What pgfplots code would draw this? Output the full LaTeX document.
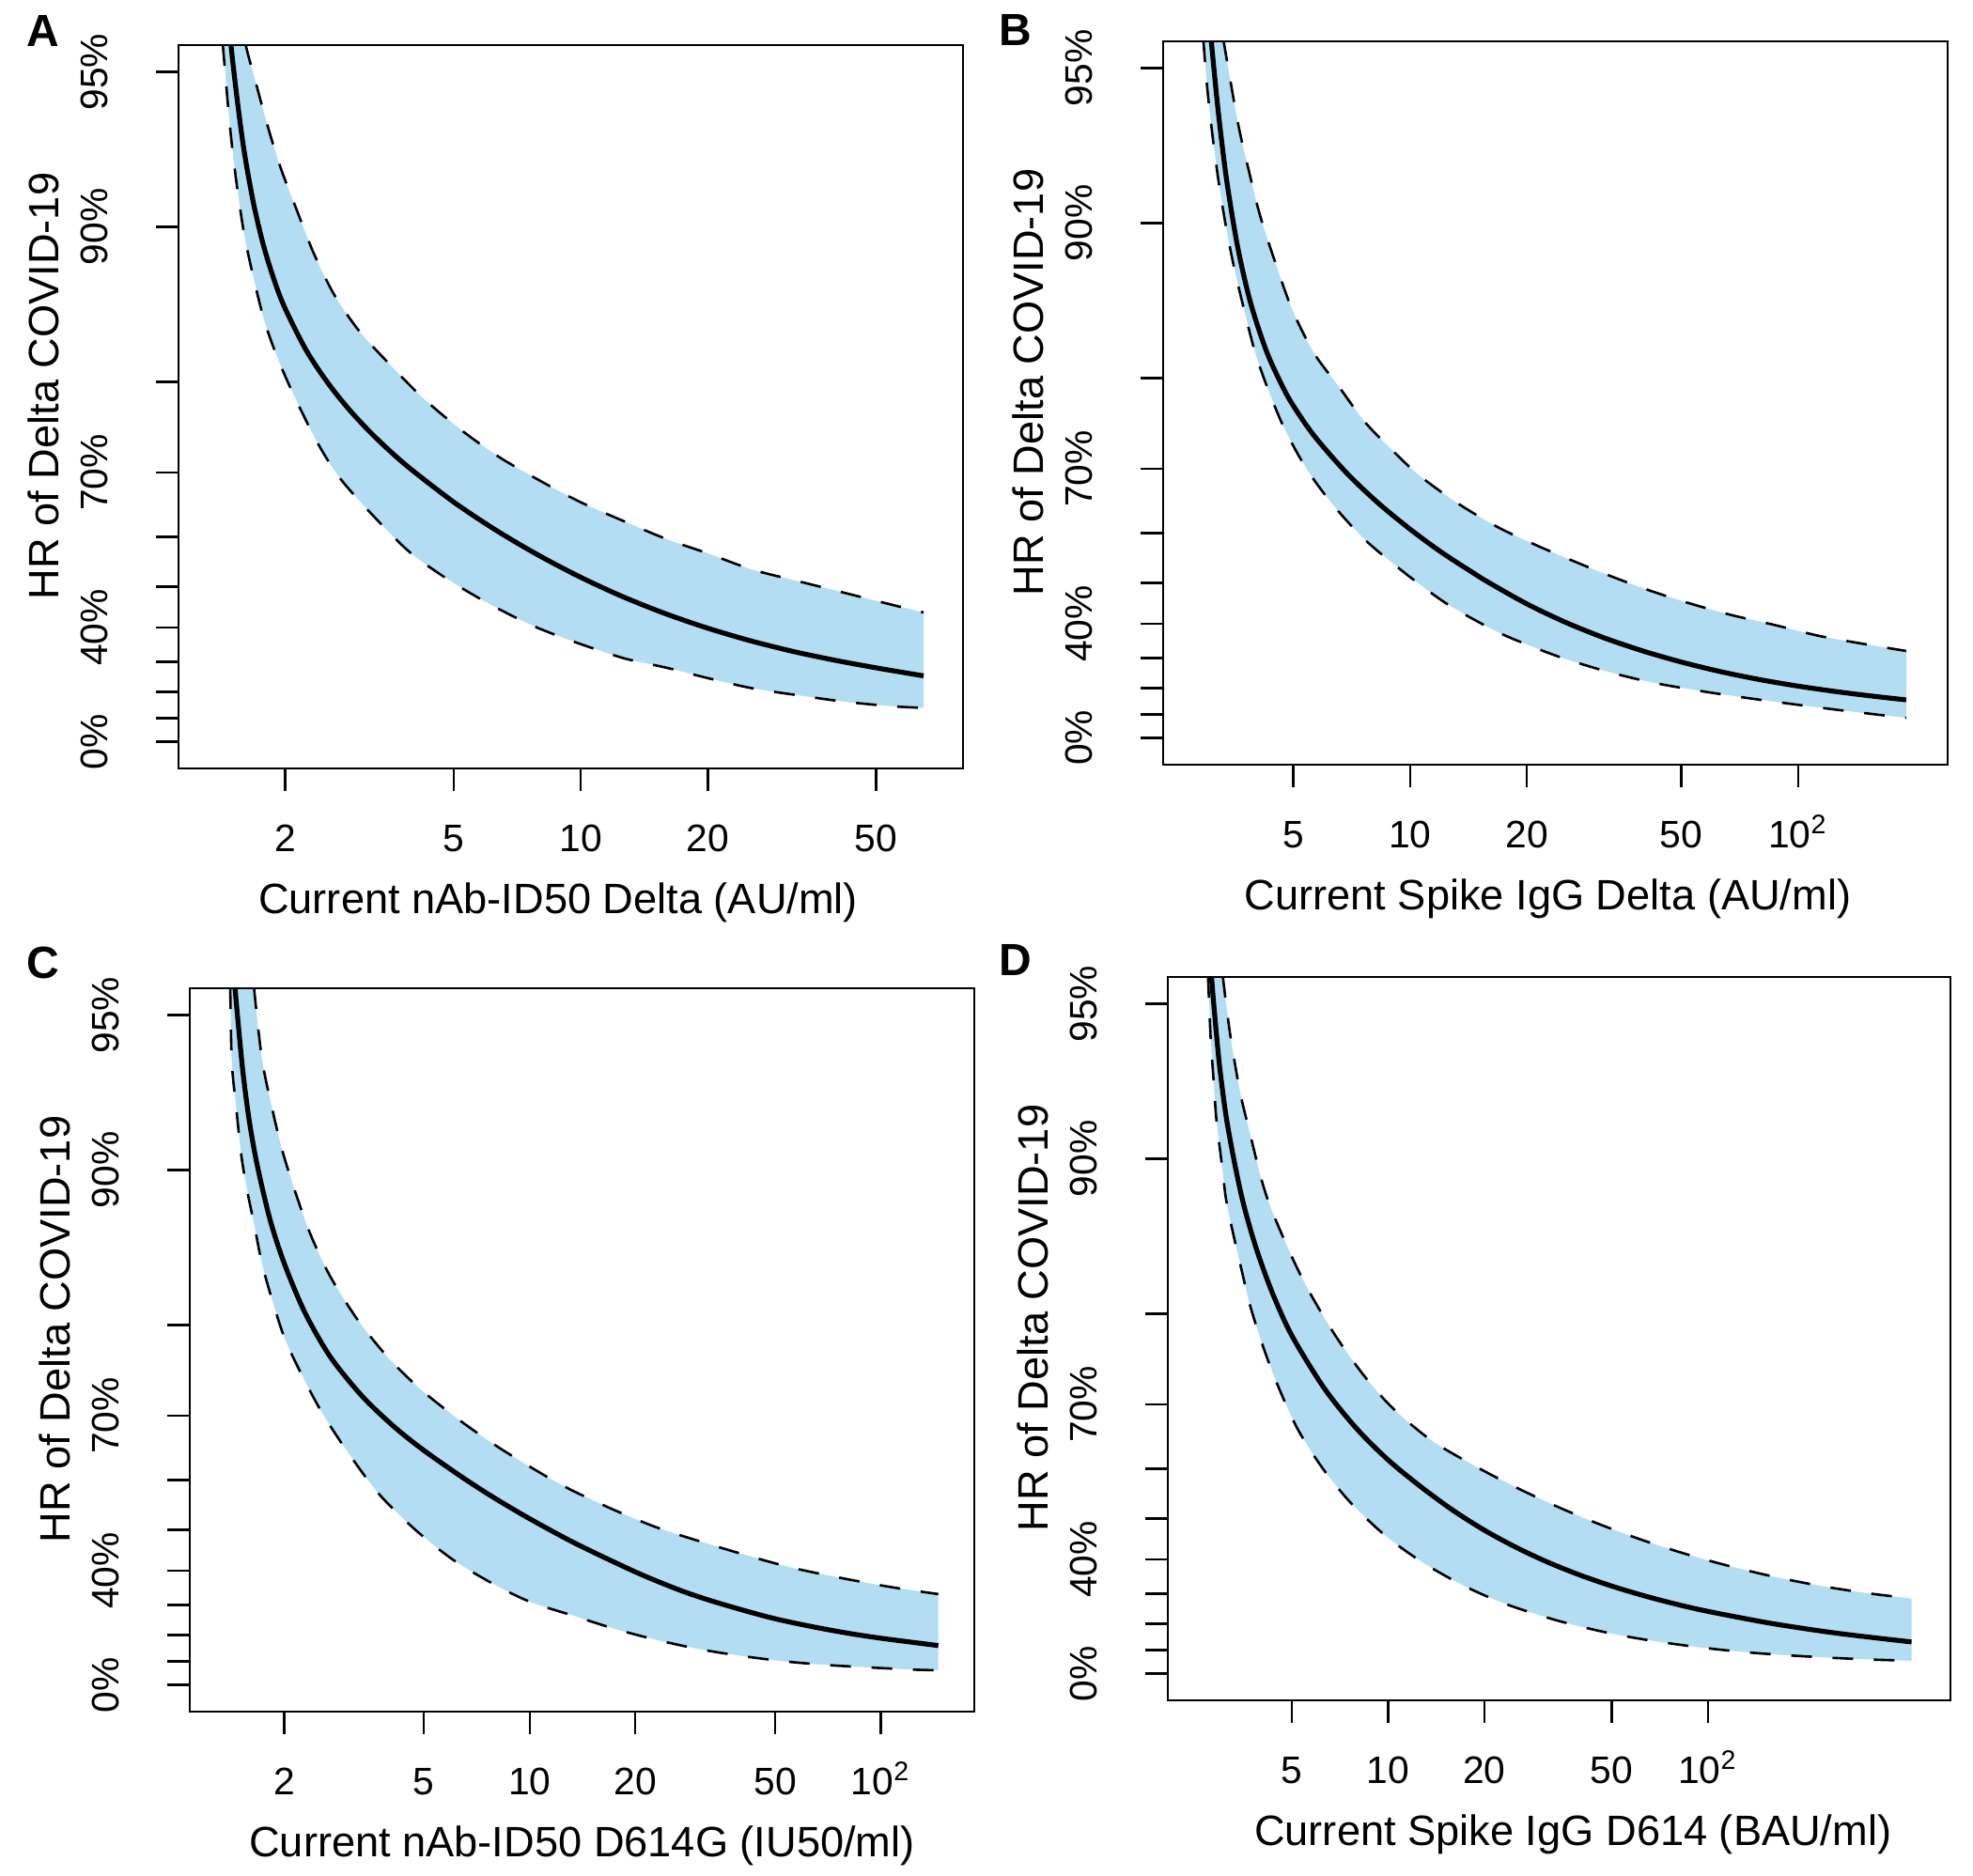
\documentclass[border=0pt]{standalone}
\usepackage{fontspec}
\setmainfont{Liberation Sans}
\usepackage{pgfplots}
\pgfplotsset{compat=1.18}
\usepackage{pgfplotstable}
\definecolor{band}{RGB}{178,221,243}
\newcommand\ticksize{\fontsize{10.2}{12}\selectfont}
\newcommand\labsize{\fontsize{11.3}{13}\selectfont}
\newcommand\letsize{\fontsize{12}{14}\selectfont}

% x = antibody level, p = HR in percent (axis scale: -ln(1-p))
% ---------- A ----------
\pgfplotstableread[row sep=\\]{x p\\ 1.429 97.00\\ 1.496 95.38\\ 1.585 93.20\\ 1.679 91.07\\ 1.778 89.10\\ 1.884 87.29\\ 1.995 85.64\\ 2.239 82.66\\ 2.512 79.99\\ 2.818 77.47\\ 3.162 75.04\\ 3.548 72.68\\ 3.981 70.36\\ 5.012 65.73\\ 6.310 61.13\\ 7.943 56.57\\ 10.00 52.05\\ 12.59 47.69\\ 15.85 43.60\\ 19.95 39.82\\ 25.12 36.36\\ 31.62 33.27\\ 39.81 30.55\\ 50.12 28.08\\ 64.70 25.48\\}\Acen
\pgfplotstableread[row sep=\\]{x p\\ 1.550 96.31\\ 1.612 95.57\\ 1.713 94.66\\ 1.819 93.61\\ 1.949 92.33\\ 2.125 90.76\\ 2.336 88.74\\ 2.614 86.43\\ 3.001 84.01\\ 3.566 81.35\\ 4.238 78.48\\ 5.213 75.19\\ 6.412 72.00\\ 7.888 69.09\\ 9.870 65.90\\ 12.50 62.84\\ 16.00 59.55\\ 20.00 56.91\\ 25.40 53.70\\ 32.80 51.18\\ 42.40 48.52\\ 54.80 45.72\\ 64.70 43.90\\}\Aup
\pgfplotstableread[row sep=\\]{x p\\ 1.397 96.31\\ 1.423 95.57\\ 1.479 93.64\\ 1.530 91.90\\ 1.598 89.69\\ 1.683 87.43\\ 1.788 84.70\\ 1.932 81.75\\ 2.125 78.24\\ 2.398 73.50\\ 2.705 69.09\\ 3.271 63.18\\ 3.955 57.04\\ 4.866 51.52\\ 6.090 45.94\\ 7.755 40.31\\ 9.870 35.60\\ 12.70 31.07\\ 16.00 28.11\\ 20.00 24.72\\ 25.40 21.26\\ 32.80 18.70\\ 42.40 16.31\\ 54.80 14.62\\ 64.70 14.02\\}\Alo
% ---------- B ----------
\pgfplotstableread[row sep=\\]{x p\\ 2.980 96.57\\ 3.045 95.86\\ 3.121 94.96\\ 3.210 93.80\\ 3.365 91.73\\ 3.594 88.84\\ 3.877 85.72\\ 4.260 82.26\\ 4.680 79.28\\ 5.000 77.35\\ 5.650 74.13\\ 6.830 69.52\\ 8.240 65.11\\ 10.00 60.66\\ 12.02 56.44\\ 14.51 52.24\\ 15.85 50.22\\ 19.95 45.13\\ 25.12 40.39\\ 31.62 36.08\\ 39.81 32.21\\ 50.12 28.74\\ 63.10 25.65\\ 79.43 22.97\\ 100.0 20.67\\ 125.9 18.67\\ 158.5 16.91\\ 190.0 15.65\\}\Bcen
\pgfplotstableread[row sep=\\]{x p\\ 3.160 96.31\\ 3.303 95.57\\ 3.594 93.63\\ 3.840 92.07\\ 4.102 90.33\\ 4.466 88.21\\ 4.953 85.33\\ 5.650 82.11\\ 6.575 79.13\\ 7.640 75.66\\ 9.060 72.22\\ 10.53 69.12\\ 13.21 65.04\\ 16.88 60.98\\ 21.57 57.47\\ 23.90 56.04\\ 30.90 52.38\\ 40.10 48.72\\ 52.00 45.34\\ 67.50 42.25\\ 87.50 39.59\\ 113.5 36.62\\ 152.8 34.03\\ 190.0 32.22\\}\Bup
\pgfplotstableread[row sep=\\]{x p\\ 2.880 96.31\\ 2.930 95.57\\ 3.000 94.50\\ 3.090 93.28\\ 3.200 91.79\\ 3.340 89.97\\ 3.520 87.75\\ 3.750 85.04\\ 3.990 82.09\\ 4.320 78.78\\ 4.750 74.84\\ 5.420 69.88\\ 6.340 64.66\\ 7.660 58.73\\ 9.650 52.29\\ 12.30 45.39\\ 15.50 39.65\\ 18.00 36.24\\ 24.00 30.58\\ 32.00 25.77\\ 42.00 21.96\\ 56.00 18.94\\ 73.00 16.47\\ 98.00 13.93\\ 127.0 11.75\\ 168.0 9.52\\ 190.0 8.61\\}\Blo
% ---------- C ----------
\pgfplotstableread[row sep=\\]{x p\\ 1.413 96.31\\ 1.447 95.59\\ 1.478 94.83\\ 1.525 93.56\\ 1.590 91.98\\ 1.675 90.22\\ 1.821 87.54\\ 2.000 84.82\\ 2.290 81.08\\ 2.706 76.94\\ 3.334 72.50\\ 4.108 68.49\\ 5.000 64.94\\ 6.500 60.27\\ 8.010 56.48\\ 10.00 52.43\\ 13.48 46.90\\ 20.00 39.65\\ 26.20 34.88\\ 31.50 31.96\\ 40.00 28.56\\ 50.00 25.59\\ 63.10 23.02\\ 79.40 20.76\\ 100.0 18.82\\ 145.8 16.11\\}\Ccen
\pgfplotstableread[row sep=\\]{x p\\ 1.615 96.31\\ 1.640 95.59\\ 1.728 93.92\\ 1.840 92.50\\ 1.979 90.79\\ 2.174 88.72\\ 2.388 86.55\\ 2.706 83.89\\ 3.231 80.49\\ 3.939 76.92\\ 4.853 73.45\\ 6.233 69.58\\ 8.010 65.70\\ 10.28 61.90\\ 12.85 58.48\\ 17.30 54.34\\ 23.10 50.49\\ 30.80 47.27\\ 41.10 44.07\\ 54.80 40.96\\ 73.10 38.43\\ 97.50 36.11\\ 119.8 34.62\\ 145.8 33.37\\}\Cup
\pgfplotstableread[row sep=\\]{x p\\ 1.390 96.31\\ 1.403 95.59\\ 1.418 93.84\\ 1.463 92.32\\ 1.509 90.64\\ 1.567 89.08\\ 1.641 87.27\\ 1.728 84.82\\ 1.840 82.29\\ 2.000 78.88\\ 2.220 75.36\\ 2.569 70.30\\ 3.067 64.30\\ 3.740 57.26\\ 4.753 49.84\\ 6.107 42.59\\ 8.010 35.92\\ 10.07 30.93\\ 13.25 26.66\\ 17.50 22.12\\ 23.10 18.13\\ 30.80 14.62\\ 41.10 11.93\\ 54.80 9.79\\ 73.10 8.33\\ 97.50 7.32\\ 124.0 6.57\\ 145.8 6.29\\}\Clo
% ---------- D ----------
\pgfplotstableread[row sep=\\]{x p\\ 2.750 96.31\\ 2.810 95.55\\ 2.877 94.70\\ 2.977 93.39\\ 3.116 91.77\\ 3.299 89.97\\ 3.533 87.78\\ 3.871 85.10\\ 4.340 81.86\\ 5.000 77.98\\ 6.310 72.14\\ 7.943 66.68\\ 10.00 61.56\\ 12.59 56.77\\ 15.85 51.97\\ 19.95 47.40\\ 25.12 43.15\\ 31.62 39.22\\ 39.81 35.63\\ 50.12 32.37\\ 63.10 29.40\\ 79.43 26.71\\ 100.0 24.28\\ 158.5 20.06\\ 251.2 16.57\\ 398.1 13.70\\ 433.0 13.23\\}\Dcen
\pgfplotstableread[row sep=\\]{x p\\ 2.950 96.31\\ 3.050 95.55\\ 3.213 94.26\\ 3.451 92.57\\ 3.708 91.05\\ 4.027 89.01\\ 4.327 87.43\\ 5.030 84.40\\ 5.708 81.76\\ 6.855 77.93\\ 8.420 73.61\\ 10.34 69.51\\ 13.60 64.83\\ 18.30 60.76\\ 24.60 56.79\\ 33.50 52.73\\ 45.00 48.95\\ 62.00 45.04\\ 84.40 41.54\\ 115.8 38.24\\ 162.5 35.07\\ 228.0 32.34\\ 320.0 30.11\\ 433.0 28.54\\}\Dup
\pgfplotstableread[row sep=\\]{x p\\ 2.710 96.31\\ 2.740 95.55\\ 2.790 94.21\\ 2.844 93.10\\ 2.910 91.58\\ 3.012 89.97\\ 3.116 88.05\\ 3.262 86.26\\ 3.494 83.47\\ 3.700 80.80\\ 4.054 77.01\\ 4.491 72.75\\ 5.210 66.58\\ 6.256 60.03\\ 7.686 53.27\\ 9.877 45.87\\ 13.00 38.86\\ 17.49 32.22\\ 23.40 26.69\\ 33.50 21.24\\ 48.00 16.82\\ 65.90 13.78\\ 92.40 11.22\\ 129.7 9.17\\ 181.9 7.76\\ 255.0 6.68\\ 330.0 6.05\\ 433.0 5.55\\}\Dlo

\pgfplotsset{
  every axis/.append style={
    scale only axis, height=192.5pt,
    xmode=log, ymin=-0.1198, ymax=3.1156,
    no marks, axis on top,
    axis line style={line width=0.6pt},
    tick style={line width=0.6pt, black},
    major tick length=6pt, tick align=outside, tick pos=left,
    xminorticks=false, yminorticks=false,
    ytick={0,0.10536,0.22314,0.35667,0.51083,0.69315,0.91629,1.20397,1.60944,2.30259,2.99573},
    yticklabels={0\%,,,,40\%,,,70\%,,90\%,95\%},
    yticklabel style={font=\ticksize, xshift=-13pt, rotate=90, anchor=base},
    xticklabel style={font=\ticksize, anchor=base, yshift=-16pt},
    every axis label/.append style={font=\labsize},
    ylabel style={at={(rel axis cs:-0.1725,0.5286)}, anchor=center},
    ylabel={HR of Delta COVID-19},
  },
}

\begin{document}
\begin{tikzpicture}
\path (0,0) rectangle (525pt,-499pt);

% Panel A
\begin{axis}[width=208.75pt, at={(47.5pt,-204.5pt)}, anchor=south west,
  xmin=1.118, xmax=80.2, xtick={2,5,10,20,50}, xticklabels={2,5,10,20,50},
  xlabel style={at={(rel axis cs:0.484,-0.1857)}, anchor=center},
  xlabel={Current nAb-ID50 Delta (AU/ml)}]
\addplot[fill=band, draw=none, smooth] table[x=x, y expr={-ln(1-\thisrow{p}/100)}] {\Aup}
  -- (axis cs:64.7,-1) -- (axis cs:0.5,-1) -- (axis cs:0.5,5) -- cycle;
\addplot[fill=white, draw=none, smooth] table[x=x, y expr={-ln(1-\thisrow{p}/100)}] {\Alo}
  -- (axis cs:1000,-1) -- (axis cs:0.5,-1) -- (axis cs:0.5,5) -- cycle;
\addplot[black, line width=0.65pt, dash pattern=on 5.5pt off 5.5pt, smooth] table[x=x, y expr={-ln(1-\thisrow{p}/100)}] {\Aup};
\addplot[black, line width=0.65pt, dash pattern=on 5.5pt off 5.5pt, smooth] table[x=x, y expr={-ln(1-\thisrow{p}/100)}] {\Alo};
\addplot[black, line width=1.3pt, smooth] table[x=x, y expr={-ln(1-\thisrow{p}/100)}] {\Acen};
\end{axis}

% Panel B
\begin{axis}[width=208.75pt, at={(309.5pt,-203.5pt)}, anchor=south west,
  xmin=2.307, xmax=243, xtick={5,10,20,50,100}, xticklabels={5,10,20,50,10\textsuperscript{2}},
  xlabel style={at={(rel axis cs:0.4904,-0.1857)}, anchor=center},
  xlabel={Current Spike IgG Delta (AU/ml)}]
\addplot[fill=band, draw=none, smooth] table[x=x, y expr={-ln(1-\thisrow{p}/100)}] {\Bup}
  -- (axis cs:190,-1) -- (axis cs:1,-1) -- (axis cs:1,5) -- cycle;
\addplot[fill=white, draw=none, smooth] table[x=x, y expr={-ln(1-\thisrow{p}/100)}] {\Blo}
  -- (axis cs:5000,-1) -- (axis cs:1,-1) -- (axis cs:1,5) -- cycle;
\addplot[black, line width=0.65pt, dash pattern=on 5.5pt off 5.5pt, smooth] table[x=x, y expr={-ln(1-\thisrow{p}/100)}] {\Bup};
\addplot[black, line width=0.65pt, dash pattern=on 5.5pt off 5.5pt, smooth] table[x=x, y expr={-ln(1-\thisrow{p}/100)}] {\Blo};
\addplot[black, line width=1.3pt, smooth] table[x=x, y expr={-ln(1-\thisrow{p}/100)}] {\Bcen};
\end{axis}

% Panel C
\begin{axis}[width=208.75pt, at={(50.5pt,-455.5pt)}, anchor=south west,
  xmin=1.0765, xmax=184.6, xtick={2,5,10,20,50,100}, xticklabels={2,5,10,20,50,10\textsuperscript{2}},
  xlabel style={at={(rel axis cs:0.5,-0.1857)}, anchor=center},
  xlabel={Current nAb-ID50 D614G (IU50/ml)}]
\addplot[fill=band, draw=none, smooth] table[x=x, y expr={-ln(1-\thisrow{p}/100)}] {\Cup}
  -- (axis cs:145.8,-1) -- (axis cs:0.5,-1) -- (axis cs:0.5,5) -- cycle;
\addplot[fill=white, draw=none, smooth] table[x=x, y expr={-ln(1-\thisrow{p}/100)}] {\Clo}
  -- (axis cs:5000,-1) -- (axis cs:0.5,-1) -- (axis cs:0.5,5) -- cycle;
\addplot[black, line width=0.65pt, dash pattern=on 5.5pt off 5.5pt, smooth] table[x=x, y expr={-ln(1-\thisrow{p}/100)}] {\Cup};
\addplot[black, line width=0.65pt, dash pattern=on 5.5pt off 5.5pt, smooth] table[x=x, y expr={-ln(1-\thisrow{p}/100)}] {\Clo};
\addplot[black, line width=1.3pt, smooth] table[x=x, y expr={-ln(1-\thisrow{p}/100)}] {\Ccen};
\end{axis}

% Panel D
\begin{axis}[width=208.25pt, at={(310.75pt,-452.5pt)}, anchor=south west,
  xmin=2.051, xmax=573, xtick={5,10,20,50,100}, xticklabels={5,10,20,50,10\textsuperscript{2}},
  xlabel style={at={(rel axis cs:0.5177,-0.1857)}, anchor=center},
  xlabel={Current Spike IgG D614 (BAU/ml)}]
\addplot[fill=band, draw=none, smooth] table[x=x, y expr={-ln(1-\thisrow{p}/100)}] {\Dup}
  -- (axis cs:433,-1) -- (axis cs:1,-1) -- (axis cs:1,5) -- cycle;
\addplot[fill=white, draw=none, smooth] table[x=x, y expr={-ln(1-\thisrow{p}/100)}] {\Dlo}
  -- (axis cs:20000,-1) -- (axis cs:1,-1) -- (axis cs:1,5) -- cycle;
\addplot[black, line width=0.65pt, dash pattern=on 5.5pt off 5.5pt, smooth] table[x=x, y expr={-ln(1-\thisrow{p}/100)}] {\Dup};
\addplot[black, line width=0.65pt, dash pattern=on 5.5pt off 5.5pt, smooth] table[x=x, y expr={-ln(1-\thisrow{p}/100)}] {\Dlo};
\addplot[black, line width=1.3pt, smooth] table[x=x, y expr={-ln(1-\thisrow{p}/100)}] {\Dcen};
\end{axis}

\node[font=\bfseries\letsize] at (11.4pt,-8.25pt) {A};
\node[font=\bfseries\letsize] at (270.25pt,-7.9pt) {B};
\node[font=\bfseries\letsize] at (11.5pt,-256.25pt) {C};
\node[font=\bfseries\letsize] at (270.25pt,-255.5pt) {D};

\pgfresetboundingbox
\path[use as bounding box] (0,0) rectangle (525pt,-499pt);
\end{tikzpicture}
\end{document}
